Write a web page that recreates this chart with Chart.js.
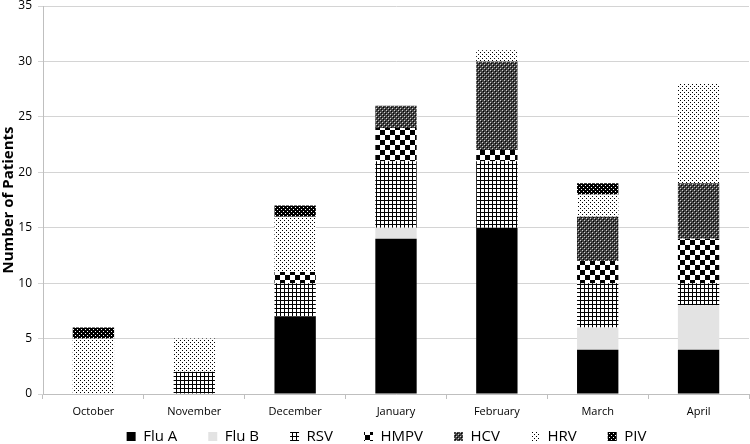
<!DOCTYPE html>
<html><head><meta charset="utf-8">
<script src="https://cdn.jsdelivr.net/npm/chart.js@4/dist/chart.umd.min.js"></script>
<style>html,body{margin:0;padding:0;background:#fff}#wrap{width:750px;height:444px}</style>
</head><body><div id="wrap"><canvas id="c" width="750" height="444"></canvas></div>
<script>
const categories = ["October","November","December","January","February","March","April"];
const seriesNames = ["Flu A","Flu B","RSV","HMPV","HCV","HRV","PIV"];
const fluA = [0,0,7,14,15,4,4];
const fluB = [0,0,0,1,0,2,4];
const rsv  = [0,2,3,6,6,4,2];
const hmpv = [0,0,1,3,1,2,4];
const hcv  = [0,0,0,2,8,4,5];
const hrv  = [5,3,5,0,1,2,9];
const piv  = [1,0,1,0,0,1,0];
const yTicks = [0,5,10,15,20,25,30,35];

function tile(w,h,draw){
  const c=document.createElement('canvas');c.width=w;c.height=h;
  const x=c.getContext('2d');draw(x);
  return document.getElementById('c').getContext('2d').createPattern(c,'repeat');
}
const pRSV = tile(4,4,x=>{x.fillStyle='#fff';x.fillRect(0,0,4,4);x.fillStyle='#000';x.fillRect(0,0,4,1);x.fillRect(0,0,1,4);});
const pHMPV = tile(10,10,x=>{x.fillStyle='#fff';x.fillRect(0,0,10,10);x.fillStyle='#000';x.fillRect(0,0,5,5);x.fillRect(5,5,5,5);});
const pHCV = tile(4,4,x=>{x.fillStyle='#444';x.fillRect(0,0,4,4);x.fillStyle='#d0d0d0';x.fillRect(0,0,1,1);x.fillRect(2,2,1,1);x.fillStyle='#000';x.fillRect(1,1,1,1);x.fillRect(3,3,1,1);});
const pHRV = tile(4,4,x=>{x.fillStyle='#fff';x.fillRect(0,0,4,4);x.fillStyle='#000';x.fillRect(0,0,1,1);x.fillRect(2,2,1,1);});
const pPIV = tile(4,4,x=>{x.fillStyle='#000';x.fillRect(0,0,4,4);x.fillStyle='#fff';x.fillRect(1,1,1,1);x.fillRect(3,3,1,1);});

const fills = ['#000000','#e3e3e3',pRSV,pHMPV,pHCV,pHRV,pPIV];
const values = [fluA,fluB,rsv,hmpv,hcv,hrv,piv];

const shiftLegend = {
  id:'shiftLegend',
  afterLayout(chart){
    const l=chart.legend; if(!l) return;
    l.top-=22; l.left+=12; l.right+=12;
  }
};

new Chart(document.getElementById('c'),{
  type:'bar',
  data:{
    labels:categories,
    datasets:seriesNames.map((n,i)=>({label:n,data:values[i],backgroundColor:fills[i],borderWidth:0,
      barPercentage:0.41,categoryPercentage:1}))
  },
  options:{
    responsive:false,animation:false,devicePixelRatio:1,
    layout:{padding:{left:0,right:1,top:0,bottom:0}},
    plugins:{
      legend:{position:'bottom',maxHeight:24,
        labels:{boxWidth:9,boxHeight:9,padding:31,color:'#000',font:{family:'Open Sans',size:15}}},
      tooltip:{enabled:false}
    },
    scales:{
      x:{stacked:true,
        grid:{display:true,drawOnChartArea:false,drawTicks:true,tickLength:5,color:'#bfbfbf',offset:true},
        border:{display:true,color:'#bfbfbf'},
        ticks:{color:'#000',font:{family:'Open Sans',size:11},padding:6,maxRotation:0},
        afterFit(s){s.height=26;}
      },
      y:{stacked:true,min:0,max:35,
        afterBuildTicks(s){s.ticks=yTicks.map(v=>({value:v}));},
        grid:{color:'#d4d4d4',tickLength:5},
        border:{display:true,color:'#bfbfbf'},
        ticks:{color:'#000',font:{family:'Open Sans',size:12,lineHeight:1},padding:6},
        title:{display:true,text:'Number of Patients',color:'#000',font:{family:'Open Sans',size:15,weight:'bold'},padding:{top:0,bottom:2}},
        afterFit(s){s.width=43;s.paddingTop=6;s.paddingBottom=6;}
      }
    }
  },
  plugins:[shiftLegend]
});
</script></body></html>
